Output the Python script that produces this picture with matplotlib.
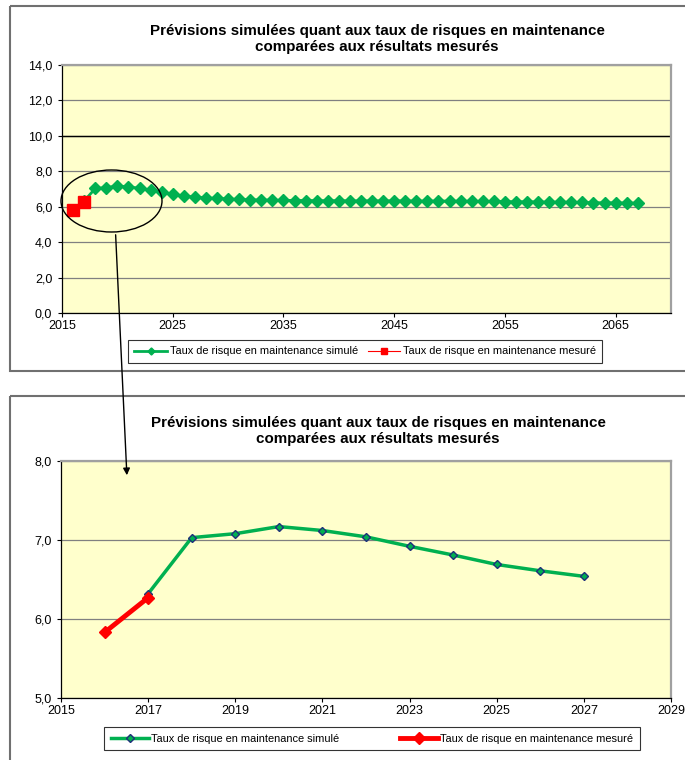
#!/usr/bin/env python
"""
Simulated vs measured maintenance risk rate, full horizon and zoom
"""
from __future__ import annotations

import matplotlib

matplotlib.use("Agg")
import matplotlib.pyplot as plt
from matplotlib.patches import Ellipse, Rectangle, FancyArrowPatch
from matplotlib.ticker import FuncFormatter

# Data
sim_years = [
    2017, 2018, 2019, 2020, 2021, 2022, 2023, 2024, 2025, 2026,
    2027, 2028, 2029, 2030, 2031, 2032, 2033, 2034, 2035, 2036,
    2037, 2038, 2039, 2040, 2041, 2042, 2043, 2044, 2045, 2046,
    2047, 2048, 2049, 2050, 2051, 2052, 2053, 2054, 2055, 2056,
    2057, 2058, 2059, 2060, 2061, 2062, 2063, 2064, 2065, 2066,
    2067,
]
sim_values = [
    6.32, 7.03, 7.08, 7.17, 7.12, 7.04, 6.92, 6.81, 6.69, 6.61,
    6.54, 6.50, 6.47, 6.44, 6.41, 6.39, 6.38, 6.37, 6.36, 6.35,
    6.35, 6.34, 6.34, 6.34, 6.33, 6.33, 6.33, 6.33, 6.33, 6.33,
    6.32, 6.32, 6.32, 6.32, 6.31, 6.31, 6.30, 6.30, 6.29, 6.28,
    6.28, 6.27, 6.26, 6.26, 6.25, 6.24, 6.23, 6.22, 6.22, 6.21,
    6.20,
]
meas_years = [2016, 2017]
meas_values = [5.83, 6.27]

zoom_last_year = 2027

title = ("Prévisions simulées quant aux taux de risques en maintenance\n"
         "comparées aux résultats mesurés")
label_sim = "Taux de risque en maintenance simulé"
label_meas = "Taux de risque en maintenance mesuré"

top_yticks = [0, 2, 4, 6, 8, 10, 12, 14]
top_xticks = [2015, 2025, 2035, 2045, 2055, 2065]
bot_yticks = [5, 6, 7, 8]
bot_xticks = [2015, 2017, 2019, 2021, 2023, 2025, 2027, 2029]

GREEN = "#00b050"
RED = "#ff0000"
NAVY = "#1f2f7a"
BG = "#ffffcc"
GRID = "#808080"

plt.rcParams["font.family"] = ["Liberation Sans Narrow", "Liberation Sans", "DejaVu Sans"]

W, H = 685, 760
fig = plt.figure(figsize=(W / 100, H / 100), dpi=100)


def frac(x0, y0, x1, y1):
    # pixel box (top-left origin) -> figure fraction rect
    return [x0 / W, 1 - y1 / H, (x1 - x0) / W, (y1 - y0) / H]


comma = FuncFormatter(lambda v, _: f"{v:.1f}".replace(".", ","))


def style(ax, xlim, ylim, xticks, yticks):
    ax.set_facecolor(BG)
    ax.set_xlim(*xlim)
    ax.set_ylim(*ylim)
    ax.set_xticks(xticks)
    ax.set_yticks(yticks)
    ax.yaxis.set_major_formatter(comma)
    ax.tick_params(labelsize=9, length=3, width=0.8, direction="out", pad=2)
    ax.tick_params(axis="y", pad=4)
    ax.grid(axis="y", color=GRID, lw=0.9)
    ax.set_axisbelow(True)
    for s in ("top", "right"):
        ax.spines[s].set_color("#a0a0a0")
        ax.spines[s].set_linewidth(1.6)
    for s in ("left", "bottom"):
        ax.spines[s].set_color("black")
        ax.spines[s].set_linewidth(0.9)


# Top chart: full horizon
ax1 = fig.add_axes(frac(62, 65, 671, 313))
style(ax1, (2015, 2070), (0, 14), top_xticks, top_yticks)
ax1.axhline(10, color="black", lw=1.0, zorder=1)
ax1.plot(sim_years, sim_values, color=GREEN, lw=2, marker="D", ms=6.5,
         mfc=GREEN, mec=GREEN, label=label_sim)
ax1.plot(meas_years, meas_values, color=RED, lw=0.8, marker="s", ms=8.5,
         mfc=RED, mec=RED, label=label_meas)
ax1.legend(loc="center", bbox_to_anchor=(365 / W, 1 - 351.5 / H),
           bbox_transform=fig.transFigure, ncol=2, fontsize=7.9,
           frameon=True, fancybox=False, edgecolor="black",
           handlelength=3.0, handletextpad=0.2, columnspacing=0.9,
           borderpad=0.6, markerscale=0.55).get_frame().set_linewidth(0.8)
fig.text(377 / W, 1 - 39 / H, title, ha="center", va="center",
         fontsize=10.9, fontweight="bold", linespacing=1.15)

# Bottom chart: zoom on the first years
ax2 = fig.add_axes(frac(61, 461, 671, 698))
style(ax2, (2015, 2029), (5, 8), bot_xticks, bot_yticks)
n = sim_years.index(zoom_last_year) + 1
ax2.plot(sim_years[:n], sim_values[:n], color=GREEN, lw=2.5, marker="D",
         ms=4.5, mfc=GREEN, mec=NAVY, mew=1.0, label=label_sim)
ax2.plot(meas_years, meas_values, color=RED, lw=3.5, marker="D", ms=6,
         mfc=RED, mec=RED, label=label_meas)
ax2.legend(loc="center", bbox_to_anchor=(372 / W, 1 - 738.5 / H),
           bbox_transform=fig.transFigure, ncol=2, fontsize=7.9,
           frameon=True, fancybox=False, edgecolor="black",
           handlelength=3.5, handletextpad=0.2, columnspacing=5.5,
           borderpad=0.6, borderaxespad=0).get_frame().set_linewidth(0.8)
fig.text(378 / W, 1 - 431 / H, title, ha="center", va="center",
         fontsize=10.9, fontweight="bold", linespacing=1.15)

# Overlay in pixel coordinates: panel frames, ellipse and arrow
ov = fig.add_axes([0, 0, 1, 1], zorder=5)
ov.set_xlim(0, W)
ov.set_ylim(H, 0)
ov.axis("off")
ov.patch.set_alpha(0)
ov.add_patch(Rectangle((10, 6), 700, 365, fill=False, ec="#707070", lw=1.5))
ov.add_patch(Rectangle((10, 396), 700, 400, fill=False, ec="#707070", lw=1.5))
ov.add_patch(Ellipse((111.5, 201), 101, 62, fill=False, ec="black", lw=1.0))
ov.add_patch(FancyArrowPatch((115.5, 232), (127, 478), arrowstyle="-|>",
                             mutation_scale=10, color="black", lw=1.0))

fig.savefig("out.png", dpi=100)
